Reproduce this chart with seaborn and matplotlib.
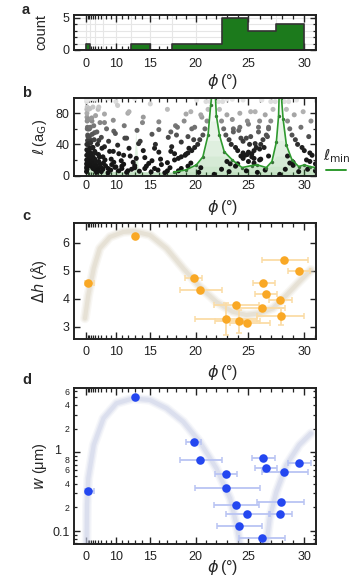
import numpy as np
import matplotlib
matplotlib.use("Agg")
import matplotlib.pyplot as plt
import seaborn as sns
import pandas as pd
from matplotlib.ticker import FixedLocator, FixedFormatter, NullFormatter
from matplotlib.lines import Line2D
from matplotlib.transforms import ScaledTranslation
from matplotlib.colors import LinearSegmentedColormap

sns.set_theme(style="ticks")
plt.rcParams['font.family'] = ['Liberation Sans', 'DejaVu Sans']
plt.rcParams['mathtext.fontset'] = 'dejavusans'

# ---------------- data ----------------
# (a) histogram
hist_edges = [0, 2.5, 5, 7.5, 10, 12.5, 15, 17.5, 20, 22.5, 25, 27.5, 30]
hist_counts = [1, 0, 0, 0, 0, 1, 0, 1, 1, 5, 3, 4]

# (b) commensurate lengths (read approximately, point by point)
b_phi = [
    0.5, 0.8, 1.2, 1.6, 2.2, 3.0, 4.0, 5.0,
    0.3, 0.6, 1.0, 1.5, 2.0, 2.8, 3.6, 4.6, 6.0,
    0.2, 0.4, 0.9, 1.3, 1.9, 2.6, 3.4, 4.3, 5.4, 6.8, 8.5,
    1.1, 1.7, 2.4, 3.2, 4.1, 5.2, 6.5, 8.0, 9.8,
    2.1, 3.0, 4.0, 5.1, 6.4, 7.9, 9.6, 11.3, 13.0,
    3.5, 4.8, 6.2, 7.8, 9.5, 11.3, 13.2, 15.2, 17.0,
    6.0, 7.8, 9.6, 11.5, 13.5, 15.5, 17.4, 19.0,
    10.0, 12.0, 14.0, 16.0, 18.0, 19.8,
    0.15, 0.35, 0.7, 1.1, 1.6, 2.3, 3.1, 4.0, 5.0, 6.2, 7.6, 9.2, 11.0,
    0.25, 0.55, 1.0, 1.5, 2.1, 2.9, 3.8, 4.9, 6.1, 7.5, 9.1, 10.9, 12.8, 14.8,
    0.9, 1.4, 2.0, 2.7, 3.6, 4.6, 5.8, 7.2, 8.8, 10.5, 12.4, 14.3, 16.2,
    1.8, 2.5, 3.4, 4.4, 5.6, 7.0, 8.6, 10.3, 12.2, 14.1, 16.0, 17.8,
    3.0, 4.0, 5.2, 6.6, 8.2, 9.9, 11.8, 13.7, 15.6, 17.5, 19.3,
    4.8, 6.2, 7.8, 9.5, 11.4, 13.3, 15.2, 17.1,
    8.5, 10.3, 12.2, 14.1, 16.0, 17.9, 19.6,
    13.0, 15.0, 17.0, 19.0, 20.6,
    0.05, 0.1, 0.1, 0.15, 0.2, 0.25, 0.3, 0.4, 0.5,
    5.5, 7.0, 8.5, 10.5, 11.8, 12.6, 13.6, 14.3, 15.1, 15.9, 16.7, 17.3, 18.2, 19.2,
    20.3, 21.79, 27.8, 23.2, 25.8, 29.5,
    6.0, 7.5, 9.0, 10.0, 11.0, 12.0, 13.0, 14.5, 15.5, 16.3, 17.0, 18.5, 19.5, 20.5,
    22.5, 23.8, 24.8, 26.5, 28.3, 29.0, 30.3, 31.0, 23.3, 25.5, 28.7, 30.5,
    22.2, 22.5, 22.9, 23.4, 24.0, 24.7, 25.5,
    22.6, 23.0, 23.6, 24.3, 25.1, 26.0,
    23.5, 24.2, 25.0, 25.9, 26.7,
    27.4, 27.0, 26.6, 26.1, 25.5, 24.9,
    27.0, 26.5, 25.9, 25.2, 24.5,
    28.2, 28.5, 28.9, 29.4, 30.0, 30.7,
    28.6, 29.1, 29.7, 30.4,
    21.4, 21.1, 20.7, 20.2, 19.6, 18.9, 18.2,
    21.0, 20.5, 19.9, 19.2, 18.5,
    22.3, 22.7, 23.2, 23.8, 24.5, 25.3, 26.1,
    23.0, 23.5, 24.1, 24.8, 25.6, 26.4,
    24.5, 25.2, 26.0, 26.8,
    27.2, 26.8, 26.3, 25.7, 25.0, 24.3,
    26.2, 25.6, 24.9, 24.2, 23.6,
    28.4, 28.7, 29.2, 29.8, 30.5,
    29.3, 29.9, 30.6,
    21.2, 20.9, 20.4, 19.9, 19.2, 18.5, 17.8,
    20.1, 19.5, 18.8, 18.1, 17.4,
    23.0, 24.0, 25.0, 26.0, 26.8, 28.5, 29.0, 30.2, 31.0, 24.5, 25.3,
]
b_ell = [
    70, 45, 30, 22, 16, 12, 9, 7.5,
    85, 60, 40, 28, 22, 17, 13.5, 11, 9,
    95, 75, 52, 40, 30, 24, 19, 15.5, 13, 11, 9,
    60, 45, 35, 28, 22, 18, 15, 12.5, 10.5,
    60, 45, 36, 29, 24, 20, 17, 14.5, 12.5,
    70, 55, 45, 37, 31, 26, 22, 19, 16.5,
    85, 68, 57, 48, 41, 35, 31, 27.5,
    95, 80, 68, 59, 52, 46,
    98, 80, 62, 50, 41, 34, 28, 24, 21, 18, 16, 14, 12,
    99, 88, 72, 60, 50, 42, 36, 31, 27, 24, 21, 19, 17, 15.5,
    98, 85, 72, 62, 53, 46, 40, 35, 31, 28, 25, 23, 21,
    98, 86, 74, 64, 56, 49, 44, 39, 35, 32, 30, 28,
    99, 88, 77, 68, 60, 54, 48, 44, 40, 37, 35,
    98, 88, 79, 71, 64, 58, 53, 49,
    99, 90, 82, 75, 69, 64, 60,
    99, 92, 85, 79, 75,
    5, 10, 15, 20, 26, 33, 40, 8, 12,
    4, 5, 3.5, 6, 4, 8, 5.5, 9, 4.5, 7, 3.5, 10, 6, 12,
    4, 1.5, 1.5, 5, 4, 5,
    6, 8, 7, 11, 9, 6, 10, 12, 9, 14, 6, 9, 16, 10,
    8, 12, 6, 7, 8, 13, 8, 6, 15, 16, 16, 18,
    95, 70, 52, 40, 32, 26, 22,
    95, 78, 60, 48, 40, 34,
    98, 80, 66, 56, 50,
    95, 70, 52, 40, 32, 27,
    95, 78, 62, 50, 44,
    95, 70, 52, 40, 32, 26,
    95, 78, 62, 50,
    95, 70, 52, 40, 32, 26, 22,
    95, 78, 62, 50, 43,
    85, 60, 46, 36, 29, 24, 21,
    98, 72, 58, 48, 41, 36,
    97, 82, 70, 62,
    85, 60, 46, 36, 30, 25,
    97, 82, 70, 62, 56,
    85, 60, 46, 36, 29,
    97, 82, 70,
    85, 60, 46, 36, 29, 24, 20,
    97, 82, 70, 62, 56,
    18, 15, 18, 20, 25, 25, 17, 20, 15, 22, 28,
]
lmin_phi = [0, 2, 5, 10, 12.8, 13.15, 13.5, 17.7, 19.0, 20.07, 20.7, 21.2, 21.45, 21.8,
            22.0, 22.3, 22.75, 23.5, 24.4, 25.3, 25.8, 26.6, 27.1, 27.5, 27.7, 27.8,
            28.1, 28.4, 28.9, 29.5, 30.0, 30.5, 31.0]
lmin_val = [15, 12, 8, 5, 5, 60, 5, 4.3, 7.2, 13.6, 24, 52, 90, 130,
            77, 52, 30.6, 20, 10.2, 12.8, 13.6, 10.2, 17.9, 43, 77, 130,
            73, 39, 20, 11.5, 13.6, 11.5, 10.2]

# (c) height difference
c_phi = [1.3, 13.05, 19.8, 20.4, 22.9, 23.8, 24.1, 24.9, 26.2, 26.3, 26.6, 27.8, 27.9, 28.2, 29.5]
c_dh = [4.57, 6.25, 4.75, 4.32, 3.27, 3.78, 3.19, 3.14, 3.66, 4.58, 4.17, 3.94, 3.37, 5.38, 4.98]
c_phi_lo = [-0.12, 13.05, 18.85, 18.4, 19.9, 21.8, 21.9, 23.3, 24.0, 25.4, 25.6, 26.8, 25.8, 26.2, 28.5]
c_phi_hi = [4.65, 13.05, 20.6, 22.5, 25.8, 25.9, 26.0, 26.9, 28.3, 27.4, 27.6, 28.9, 30.0, 30.3, 30.55]
c_dh_err = [0, 0, 0, 0, 0.58, 0, 0.4, 0, 0, 0, 0, 0, 0.3, 0, 0]
c_fit_phi = [-0.12, 1.3, 4.4, 6.5, 8.85, 11.2, 12.8, 14.95, 16.9, 18.7, 20.4, 22.0, 23.5,
             24.8, 26.0, 27.2, 28.4, 29.55, 30.6]
c_fit_dh = [3.30, 4.13, 5.09, 5.80, 6.21, 6.39, 6.42, 6.28, 5.80, 5.09, 4.43, 3.89, 3.54,
            3.42, 3.48, 3.66, 4.13, 4.61, 5.03]

# (d) width
d_phi = [1.3, 13.05, 19.8, 20.4, 22.9, 22.9, 23.8, 24.9, 24.1, 26.2, 26.3, 26.6, 28.2, 29.5, 27.9, 27.8]
d_w = [0.322, 5.09, 1.36, 0.79, 0.525, 0.355, 0.214, 0.163, 0.116, 0.082, 0.84, 0.638, 0.557, 0.738, 0.236, 0.163]
d_phi_lo = [-0.12, 13.05, 19.0, 18.4, 21.9, 19.9, 21.8, 22.9, 22.05, 24.1, 25.3, 25.6, 26.2, 28.5, 25.8, 26.8]
d_phi_hi = [4.65, 13.05, 20.55, 22.5, 23.95, 26.0, 25.9, 26.9, 26.2, 28.3, 27.4, 27.6, 30.35, 30.6, 30.0, 28.9]
d_fit1_phi = [0.0, 0.1, 0.4, 1.3, 4.4, 7.6, 10.1, 12.8, 14.95, 16.9, 18.7, 20.4, 22.0, 23.3, 23.9, 24.2, 24.4]
d_fit1_w = [0.04, 0.073, 0.214, 0.467, 1.24, 2.7, 4.2, 4.85, 4.62, 3.62, 2.45, 1.36, 0.626, 0.26, 0.119, 0.07, 0.04]
d_fit2_phi = [26.4, 26.6, 26.9, 27.5, 28.4, 29.55, 30.6]
d_fit2_w = [0.04, 0.066, 0.145, 0.315, 0.69, 1.24, 1.74]

x_major = [0, 10, 15, 20, 25, 30]

# ---------------- non-linear phi axis ----------------
_kd = np.array([-20, -1, 0, 2.5, 5, 7.5, 10, 12.5, 15, 17.5, 20, 22.5, 25, 27.5, 30, 50])
_kp = np.array([-250, -12.5, 0, 3.5, 8.5, 16.5, 29.5, 44.5, 64, 85.5, 109.5, 135.5, 162.5,
                190.5, 218.5, 442.5])


def fwd(x):
    return np.interp(x, _kd, _kp)


def inv(p):
    return np.interp(p, _kp, _kd)


GREEN = "#1c7a1c"
ORANGE = "#f9a825"
ORANGE_L = "#fbdca6"
BLUE = "#2447f0"
BLUE_L = "#b9c4f3"
LGREEN = "#2f9a2f"

dot_cmap = LinearSegmentedColormap.from_list(
    "dots", [(0, "#111111"), (0.35, "#1e1e1e"), (0.7, "#8a8a8a"), (1.0, "#ededed")])

fig = plt.figure(figsize=(3.51, 5.83), dpi=100)
W, H = 351, 583


def add_ax(left, right, top, bottom):
    return fig.add_axes([left / W, 1 - bottom / H, (right - left) / W, (bottom - top) / H])


ax_a = add_ax(74, 316, 15, 50)
ax_b = add_ax(74, 316, 97.7, 175.5)
ax_c = add_ax(74, 316, 223.3, 339.3)
ax_d = add_ax(74, 316, 387.7, 544.3)

TICK_FS = 9


def style_x(ax, pad=4.5, label_y=-0.3):
    ax.set_xscale('function', functions=(fwd, inv))
    ax.set_xlim(-1, 31.05)
    ax.xaxis.set_major_locator(FixedLocator(x_major))
    ax.xaxis.set_minor_locator(FixedLocator(list(range(0, 32))))
    ax.xaxis.set_minor_formatter(NullFormatter())
    ax.tick_params(which='both', direction='in', top=True, right=True, labelsize=TICK_FS,
                   colors='#222222')
    ax.tick_params(axis='x', which='major', length=5, width=1.0, pad=pad)
    ax.tick_params(axis='x', which='minor', length=3, width=0.9)
    ax.tick_params(axis='y', which='major', length=4, width=1.0, pad=3)
    ax.tick_params(axis='y', which='minor', length=2.5, width=0.9)
    for s in ax.spines.values():
        s.set_linewidth(1.4)
        s.set_color('#222222')
    ax.set_xlabel(r"$\phi\,$(°)", fontsize=11.5, va='top')
    ax.xaxis.set_label_coords(0.616, label_y)


def panel_letter(ax_y_px, letter):
    fig.text(22 / W, 1 - ax_y_px / H, letter, fontsize=10.5, fontweight='bold', va='center')


# ---- (a) ----
centers = [(hist_edges[i] + hist_edges[i + 1]) / 2 for i in range(len(hist_counts))]
df_a = pd.DataFrame({"phi": centers, "n": hist_counts})
sns.histplot(data=df_a, x="phi", weights="n", bins=hist_edges, element="step", fill=True,
             color=GREEN, alpha=1.0, edgecolor="#333333", linewidth=1.2, ax=ax_a)
ax_a.set_ylim(0, 5.4)
ax_a.yaxis.set_major_locator(FixedLocator([0, 5]))
ax_a.yaxis.set_minor_locator(FixedLocator([1, 2, 3, 4]))
for e in hist_edges:
    ax_a.axvline(e, color='#e6e6e6', lw=0.8, zorder=0)
for yv in [1, 2, 3, 4, 5]:
    ax_a.axhline(yv, color='#e6e6e6', lw=0.8, zorder=0)
style_x(ax_a, pad=5.5, label_y=-0.62)
ax_a.set_ylabel("count", fontsize=10.5)
ax_a.yaxis.set_label_coords(-0.105, 0.5)
panel_letter(10, "a")

# ---- (b) ----
lm_phi = np.array(lmin_phi)
lm_val = np.array(lmin_val)
for lev in [5, 12, 25, 45, 70, 100]:
    ax_b.fill_between(lm_phi, 0, np.minimum(lm_val, lev), color="#45a845", alpha=0.06, lw=0)
df_b = pd.DataFrame({"phi": b_phi, "ell": b_ell})
sns.scatterplot(data=df_b, x="phi", y="ell", hue="ell", palette=dot_cmap, hue_norm=(0, 100),
                s=13, linewidth=0, legend=False, ax=ax_b)
mask = lm_phi >= 17.7
df_l = pd.DataFrame({"phi": lm_phi[mask], "ell": lm_val[mask]})
sns.lineplot(data=df_l, x="phi", y="ell", color=LGREEN, lw=1.2, sort=False, ax=ax_b)
sns.scatterplot(data=df_l, x="phi", y="ell", color="#3a6a3a", s=6, linewidth=0, ax=ax_b)
ax_b.set_ylim(0, 100)
ax_b.yaxis.set_major_locator(FixedLocator([0, 40, 80]))
ax_b.yaxis.set_minor_locator(FixedLocator([20, 60]))
style_x(ax_b, pad=3, label_y=-0.29)
ax_b.set_ylabel(r"$\ell\,$(a$_\mathrm{G}$)", fontsize=10.5)
ax_b.yaxis.set_label_coords(-0.105, 0.5)
ax_b.text(1.03, 0.25, r"$\ell_\mathrm{min}$", transform=ax_b.transAxes, fontsize=11,
          va='center', ha='left')
ax_b.add_line(Line2D([1.04, 1.125], [0.07, 0.07], transform=ax_b.transAxes, color=LGREEN,
                     lw=1.4, clip_on=False))
panel_letter(93, "b")

# ---- (c) ----
df_cf = pd.DataFrame({"phi": c_fit_phi, "dh": c_fit_dh})
for lw, al in [(7, 0.18), (5, 0.3), (3, 0.45)]:
    sns.lineplot(data=df_cf, x="phi", y="dh", color="#ddd5c3", lw=lw, alpha=al, ax=ax_c)
cp = np.array(c_phi)
ax_c.errorbar(c_phi, c_dh, xerr=[cp - np.array(c_phi_lo), np.array(c_phi_hi) - cp],
              yerr=c_dh_err, fmt='none', ecolor=ORANGE_L, elinewidth=1.3, capsize=2.2,
              capthick=1.1)
df_c = pd.DataFrame({"phi": c_phi, "dh": c_dh})
sns.scatterplot(data=df_c, x="phi", y="dh", color=ORANGE, s=38, linewidth=0, ax=ax_c, zorder=5)
ax_c.set_ylim(2.55, 6.7)
ax_c.yaxis.set_major_locator(FixedLocator([3, 4, 5, 6]))
style_x(ax_c, pad=4.5, label_y=-0.2)
ax_c.set_ylabel(r"$\Delta h$ (Å)", fontsize=10.5)
ax_c.yaxis.set_label_coords(-0.105, 0.5)
panel_letter(216, "c")

# ---- (d) ----
for ph, ww in [(d_fit1_phi, d_fit1_w), (d_fit2_phi, d_fit2_w)]:
    df_f = pd.DataFrame({"phi": ph, "w": ww})
    for lw, al in [(7, 0.16), (5, 0.28), (3, 0.42)]:
        sns.lineplot(data=df_f, x="phi", y="w", color="#c9cfe6", lw=lw, alpha=al, ax=ax_d)
dp = np.array(d_phi)
ax_d.errorbar(d_phi, d_w, xerr=[dp - np.array(d_phi_lo), np.array(d_phi_hi) - dp],
              fmt='none', ecolor=BLUE_L, elinewidth=1.3, capsize=2.2, capthick=1.1)
df_d = pd.DataFrame({"phi": d_phi, "w": d_w})
sns.scatterplot(data=df_d, x="phi", y="w", color=BLUE, s=38, linewidth=0, ax=ax_d, zorder=5)
ax_d.set_yscale('log')
ax_d.set_ylim(0.0678, 6.62)
ax_d.yaxis.set_major_locator(FixedLocator([0.1, 1]))
ax_d.yaxis.set_major_formatter(FixedFormatter(["0.1", "1"]))
minor_vals = [0.07, 0.08, 0.09, 0.2, 0.3, 0.4, 0.5, 0.6, 0.7, 0.8, 0.9, 2, 3, 4, 5, 6]
minor_labs = ["", "", "", "2", "", "4", "", "6", "", "8", "", "2", "", "4", "", "6"]
ax_d.yaxis.set_minor_locator(FixedLocator(minor_vals))
ax_d.yaxis.set_minor_formatter(FixedFormatter(minor_labs))
style_x(ax_d, pad=4.5, label_y=-0.09)
ax_d.tick_params(axis='y', which='minor', labelsize=6.3, pad=3)
ax_d.tick_params(axis='y', which='major', pad=3)
ax_d.set_ylabel(r"$w$ (μm)", fontsize=10.5)
ax_d.yaxis.set_label_coords(-0.105, 0.5)
panel_letter(380, "d")

fig.canvas.draw()
for t in ax_d.yaxis.get_major_ticks():
    if t.label1.get_text() == "1":
        t.label1.set_transform(t.label1.get_transform() +
                               ScaledTranslation(-6 / 72, 2 / 72, fig.dpi_scale_trans))

fig.savefig("out.png", dpi=100)
